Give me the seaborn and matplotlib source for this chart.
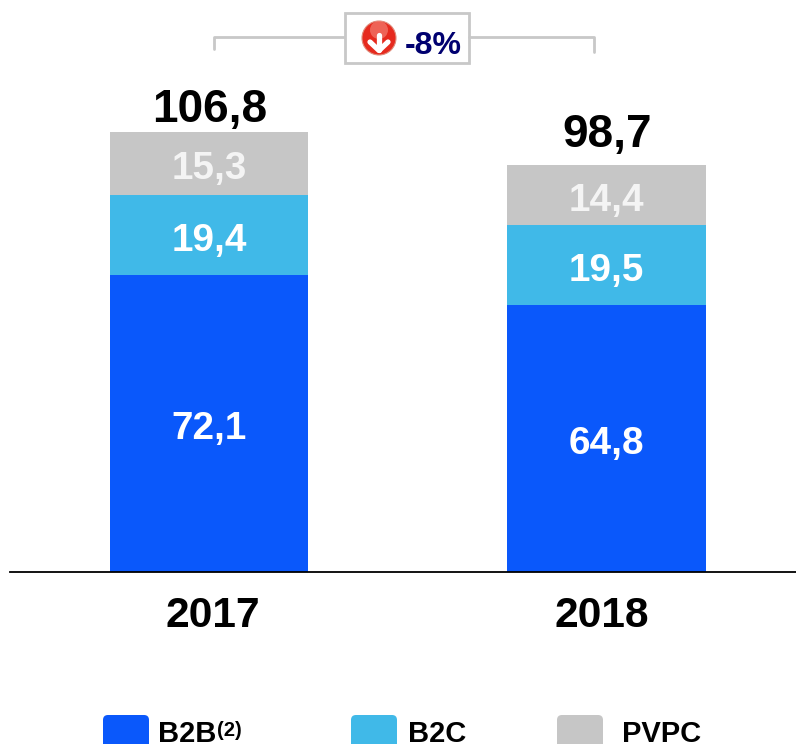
import matplotlib
matplotlib.use("Agg")
import matplotlib.pyplot as plt
from matplotlib.patches import Circle, FancyBboxPatch, Rectangle
from matplotlib.lines import Line2D
from matplotlib.transforms import Affine2D
import numpy as np
import pandas as pd
import seaborn as sns

years = ["2017", "2018"]
b2b = [72.1, 64.8]
b2c = [19.4, 19.5]
pvpc = [15.3, 14.4]
totals = [106.8, 98.7]
series_names = ["B2B", "B2C", "PVPC"]
change_label = "-8%"

# layout only: pixel offsets of the labels
total_gap_px = [27, 35]
year_shift_px = [3.5, -4.5]

BLUE, CYAN, GREY = "#0a58fb", "#40b9e8", "#c6c6c6"
W, H = 796, 744

sns.set_theme(style="white")
plt.rcParams["font.family"] = ["Liberation Sans", "DejaVu Sans"]

fig = plt.figure(figsize=(W / 100, H / 100), dpi=100, facecolor="white")
ax = fig.add_axes([10 / W, (H - 572) / H, (W - 10) / W, 572 / H])

df = pd.DataFrame({"year": years, "B2B": b2b, "B2C": b2c, "PVPC": pvpc})
bottom = np.zeros(len(years))
for name, col in zip(series_names, [BLUE, CYAN, GREY]):
    sns.barplot(data=df, x="year", y=name, color=col, width=0.5, bottom=bottom,
                saturation=1, ax=ax, linewidth=0)
    for i, v in enumerate(df[name]):
        ax.annotate(f"{v:.1f}".replace(".", ","), (i, bottom[i] + v / 2),
                    xytext=(0, -1.2), textcoords="offset points", ha="center",
                    va="center_baseline", color="white" if name != "PVPC" else "#f4f4f4",
                    fontsize=27.8, fontweight="bold")
    bottom = bottom + df[name].to_numpy()

for i, t in enumerate(totals):
    ax.annotate(f"{t:.1f}".replace(".", ","), (i, t),
                xytext=(0.5, total_gap_px[i] * 0.72), textcoords="offset points",
                ha="center", va="center_baseline", color="black",
                fontsize=33, fontweight="bold", annotation_clip=False)

ax.set_xticks([i + d / 397.5 for i, d in enumerate(year_shift_px)], labels=years)
ax.set_xlim(-199 / 397.5, 587 / 397.5)
ax.set_ylim(0, 572 / 4.12)
ax.set_xlabel("")
ax.set_ylabel("")
ax.set_yticks([])
ax.tick_params(axis="x", length=0, pad=17, labelsize=30.6)
for lab in ax.get_xticklabels():
    lab.set_fontweight("bold")
    lab.set_color("black")
for s in ["top", "left", "right"]:
    ax.spines[s].set_visible(False)
ax.spines["bottom"].set_color("black")
ax.spines["bottom"].set_linewidth(1.3)
ax.patch.set_alpha(0)

# overlay in pixel coordinates (origin top-left)
px = Affine2D().scale(1, -1).translate(0, H)


def line(xs, ys, **kw):
    fig.add_artist(Line2D(xs, ys, transform=px, **kw))


line([214, 214, 344], [49, 37, 37], color="#c8c8c8", lw=2)
line([469, 594, 594], [37, 37, 52], color="#c8c8c8", lw=2)
fig.add_artist(Rectangle((345, 13), 124, 50, transform=px, fc="white", ec="#c8c8c8", lw=2))

# down-arrow icon (pixel y grows downward in this overlay)
fig.add_artist(Circle((379, 38), 17, transform=px, fc="#e62a1e", ec="#e08a7a", lw=0.8))
fig.add_artist(Circle((379, 30), 9, transform=px, fc="#f58a7c", ec="none", alpha=0.6))
line([379, 379], [35, 50], color="white", lw=3.8, solid_capstyle="round")
line([370, 379, 388], [42, 50.5, 42], color="white", lw=3.8, solid_capstyle="round",
     solid_joinstyle="round")

fig.text(405 / W, 1 - 42.5 / H, change_label, ha="left", va="center_baseline",
         color="#000070", fontsize=23, fontweight="bold")

# legend
keys = [(103, BLUE, 158.5), (351, CYAN, 407.5), (557, GREY, 622.5)]
for (x0, col, tx), name in zip(keys, series_names):
    fig.add_artist(FancyBboxPatch((x0 + 4, 719), 38, 40, transform=px, fc=col, ec="none",
                                  boxstyle="round,pad=4,rounding_size=5"))
    fig.text(tx / W, 1 - 742 / H, name, ha="left", va="baseline", color="black",
             fontsize=21, fontweight="bold")
fig.text(217 / W, 1 - 728 / H, "(2)", ha="left", va="center_baseline", color="black",
         fontsize=14.5, fontweight="bold")

fig.savefig("out.png", dpi=100)
